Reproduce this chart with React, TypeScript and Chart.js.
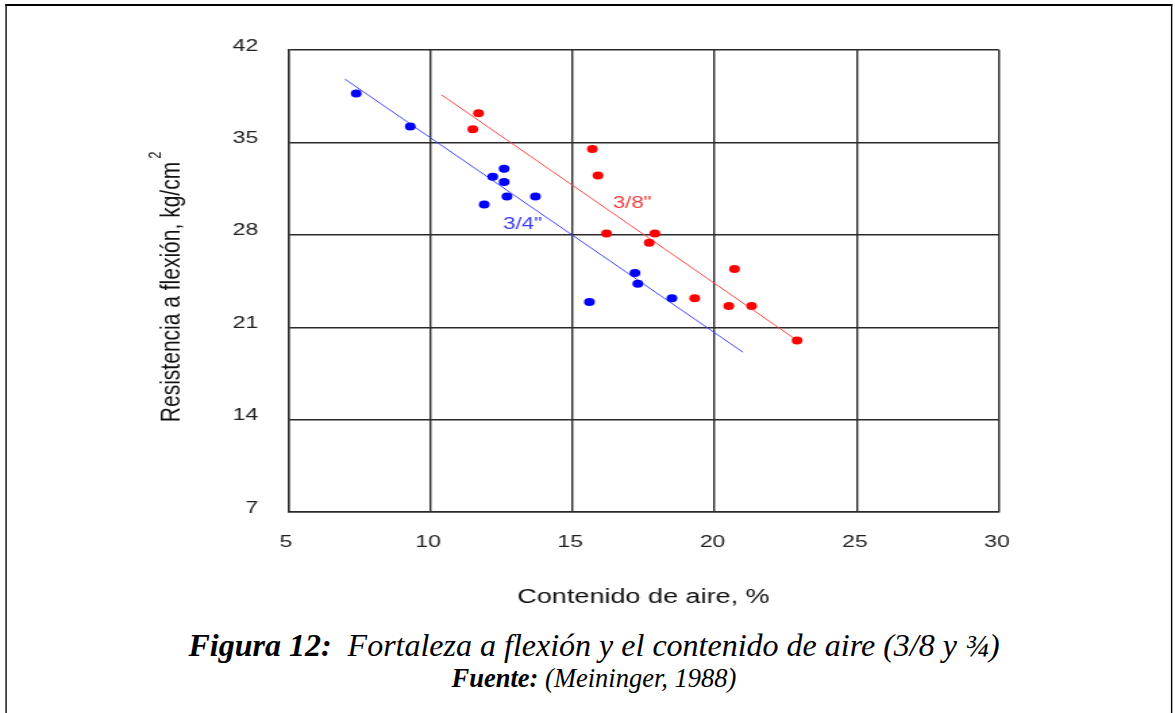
import React, { useEffect, useRef } from "react";
import { Chart, registerables } from "chart.js";

Chart.register(...registerables);

// Axis ticks
const airTicks = [5, 10, 15, 20, 25, 30];
const strengthTicks = [7, 14, 21, 28, 35, 42];

// 3/4" aggregate: air content (%) and flexural strength (kg/cm²)
const blueAir = [7.4, 9.3, 12.6, 12.2, 12.6, 11.9, 12.7, 13.7, 15.6, 17.2, 17.3, 18.5];
const blueStrength = [38.7, 36.2, 33.0, 32.4, 32.0, 30.3, 30.9, 30.9, 22.9, 25.1, 24.3, 23.2];

// 3/8" aggregate
const redAir = [11.7, 11.5, 15.7, 15.9, 16.2, 17.9, 17.7, 19.3, 20.7, 20.5, 21.3, 22.9];
const redStrength = [37.2, 36.0, 34.5, 32.5, 28.1, 28.1, 27.4, 23.2, 25.4, 22.6, 22.6, 20.0];

// Trend lines (end points)
const blueFitAir = [7.0, 21.0];
const blueFitStrength = [39.8, 19.1];
const redFitAir = [10.4, 22.9];
const redFitStrength = [38.6, 20.0];

// Series labels placed next to their trend lines
const seriesLabels = [
  { text: '3/4"', air: 13.25, strength: 28.75, color: "#3a3af2" },
  { text: '3/8"', air: 17.1, strength: 30.4, color: "#f03e3e" },
];

const xTitle = "Contenido de aire, %";
const yTitle = "Resistencia a flexión, kg/cm";

const PAGE_W = 1175;
const PAGE_H = 713;
const BASE_W = 870;
const STRETCH = PAGE_W / BASE_W;
const CANVAS_H = 620;
const sansFont = '"Liberation Sans", Arial, Helvetica, sans-serif';
const serifFont = '"Liberation Serif", "Times New Roman", Times, serif';
const gridColor = "#2a2a2a";

const toPoints = (xs: number[], ys: number[]) => xs.map((x, i) => ({ x, y: ys[i] }));

const textPlugin = {
  id: "axisTitlesAndLabels",
  afterDatasetsDraw(chart: any) {
    const { ctx, chartArea, scales } = chart;
    const { left, right, top, bottom } = chartArea;
    ctx.save();
    ctx.fillStyle = "#111";
    ctx.textAlign = "center";
    ctx.textBaseline = "middle";

    // x-axis title
    ctx.font = `20px ${sansFont}`;
    ctx.fillText(xTitle, (left + right) / 2, bottom + 85);

    // y-axis title with superscript
    ctx.save();
    ctx.font = `21px ${sansFont}`;
    ctx.translate(left - 86, (top + bottom) / 2 + 11);
    ctx.rotate(-Math.PI / 2);
    const w = ctx.measureText(yTitle).width;
    ctx.fillText(yTitle, 0, 0);
    ctx.font = `13px ${sansFont}`;
    ctx.textAlign = "left";
    ctx.fillText("2", w / 2 + 3, -12);
    ctx.restore();

    // series labels
    ctx.font = `16.5px ${sansFont}`;
    for (const lbl of seriesLabels) {
      ctx.fillStyle = lbl.color;
      ctx.fillText(lbl.text, scales.x.getPixelForValue(lbl.air), scales.y.getPixelForValue(lbl.strength));
    }
    ctx.restore();
  },
};

export default function App() {
  const canvasRef = useRef<HTMLCanvasElement>(null);

  useEffect(() => {
    const canvas = canvasRef.current;
    if (!canvas) return;
    const tickFont = { family: sansFont, size: 17 };
    const chart = new Chart(canvas, {
      type: "scatter",
      data: {
        datasets: [
          {
            data: toPoints(blueAir, blueStrength),
            backgroundColor: "#0000ff",
            borderColor: "#0000ff",
            pointRadius: 4,
            pointBorderWidth: 0,
            order: 0,
          },
          {
            data: toPoints(redAir, redStrength),
            backgroundColor: "#ff0000",
            borderColor: "#ff0000",
            pointRadius: 4,
            pointBorderWidth: 0,
            order: 0,
          },
          {
            data: toPoints(blueFitAir, blueFitStrength),
            showLine: true,
            borderColor: "#4040ff",
            borderWidth: 1,
            pointRadius: 0,
            order: 1,
          },
          {
            data: toPoints(redFitAir, redFitStrength),
            showLine: true,
            borderColor: "#ff4040",
            borderWidth: 1,
            pointRadius: 0,
            order: 1,
          },
        ],
      },
      options: {
        responsive: false,
        devicePixelRatio: 1,
        animation: false,
        layout: { padding: { left: 0, top: 50, right: BASE_W - 739.7, bottom: 0 } },
        plugins: { legend: { display: false }, tooltip: { enabled: false } },
        scales: {
          x: {
            type: "linear",
            min: 5,
            max: 30,
            afterFit: (scale: any) => {
              scale.height = CANVAS_H - 512;
            },
            afterBuildTicks: (scale: any) => {
              scale.ticks = airTicks.map((v) => ({ value: v }));
            },
            grid: { color: gridColor, lineWidth: 1.4, drawTicks: false },
            border: { display: true, color: gridColor, width: 1.4 },
            ticks: { font: tickFont, color: "#222", padding: 20, labelOffset: -1.5, maxRotation: 0 },
          },
          y: {
            type: "linear",
            min: 7,
            max: 42,
            afterFit: (scale: any) => {
              scale.width = 213.2;
            },
            afterBuildTicks: (scale: any) => {
              scale.ticks = strengthTicks.map((v) => ({ value: v }));
            },
            grid: { color: gridColor, lineWidth: 1.4, drawTicks: false },
            border: { display: true, color: gridColor, width: 1.4 },
            ticks: { font: tickFont, color: "#222", padding: 22, labelOffset: -4 },
          },
        },
      },
      plugins: [textPlugin],
    } as any);
    return () => chart.destroy();
  }, []);

  return (
    <div
      style={{
        position: "absolute",
        left: 0,
        top: 0,
        width: BASE_W,
        height: PAGE_H,
        overflow: "hidden",
        background: "#fff",
        transform: `scaleX(${STRETCH})`,
        transformOrigin: "0 0",
      }}
    >
      <div
        style={{
          position: "absolute",
          left: 3.8,
          top: 4,
          width: 864.5,
          height: 800,
          boxSizing: "border-box",
          borderTop: "2px solid #000",
          borderLeft: "1.5px solid #000",
          borderRight: "1.5px solid #000",
        }}
      />
      <canvas
        ref={canvasRef}
        width={BASE_W}
        height={CANVAS_H}
        style={{ position: "absolute", left: 0, top: 0, width: BASE_W, height: CANVAS_H }}
      />
      <div
        style={{
          position: "absolute",
          left: 0,
          top: 627,
          width: PAGE_W,
          paddingLeft: 13,
          boxSizing: "border-box",
          textAlign: "center",
          fontFamily: serifFont,
          fontStyle: "italic",
          color: "#000",
          transform: `scaleX(${1 / STRETCH})`,
          transformOrigin: "0 0",
          whiteSpace: "nowrap",
        }}
      >
        <div style={{ fontSize: 32, lineHeight: "36px" }}>
          <b>Figura 12:</b>&nbsp; Fortaleza a flexión y el contenido de aire (3/8 y ¾)
        </div>
        <div style={{ fontSize: 26.5, lineHeight: "28px", marginTop: 1 }}>
          <b>Fuente:</b> (Meininger, 1988)
        </div>
      </div>
    </div>
  );
}
